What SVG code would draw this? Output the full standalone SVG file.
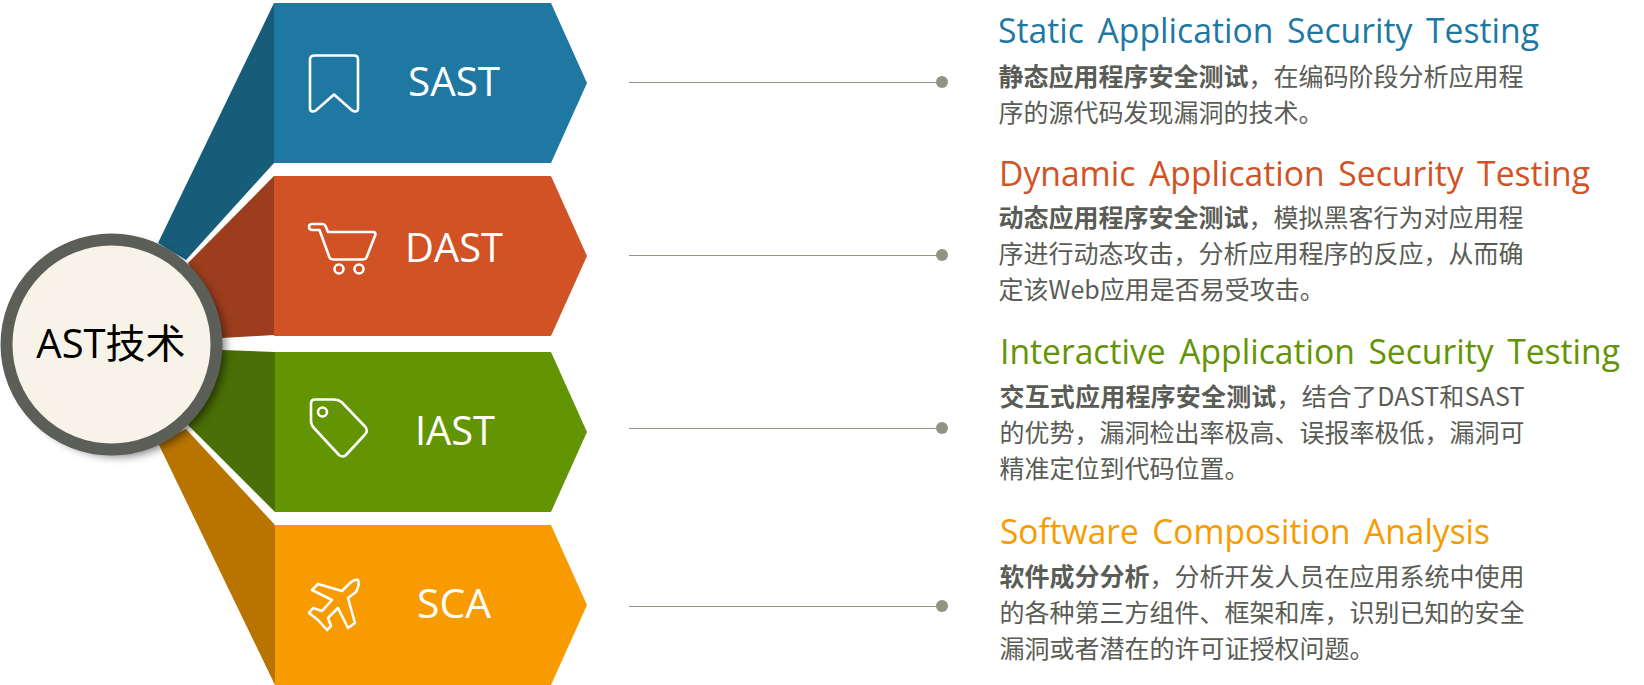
<svg xmlns="http://www.w3.org/2000/svg" width="1644" height="685" viewBox="0 0 1644 685">
<style>
.lab{font-family:"Open Sans","Noto Sans",sans-serif;font-size:40px;fill:#fff;text-anchor:middle}
.ttl{font-family:"Open Sans","Noto Sans",sans-serif;font-size:34.500px;word-spacing:5px}
.cn{font-family:"Noto Sans CJK SC",sans-serif;font-size:25px;fill:#5a5c56}
.b{font-weight:700}
.ic{fill:none;stroke:#fff;stroke-width:2.6;stroke-linejoin:round;stroke-linecap:round}
.ln{stroke:#8f9485;stroke-width:1}
.dot{fill:#8f9485}
</style>
<defs><filter id="sh" x="-20%" y="-20%" width="145%" height="145%"><feGaussianBlur stdDeviation="5"/></filter></defs>
<g id="connectors">
<line class="ln" x1="629" y1="82.500" x2="941" y2="82.500"/><circle class="dot" cx="942" cy="82" r="6"/>
<line class="ln" x1="629" y1="255.500" x2="941" y2="255.500"/><circle class="dot" cx="942" cy="255" r="6"/>
<line class="ln" x1="629" y1="428.500" x2="941" y2="428.500"/><circle class="dot" cx="942" cy="428" r="6"/>
<line class="ln" x1="629" y1="606.500" x2="941" y2="606.500"/><circle class="dot" cx="942" cy="606" r="6"/>
</g>
<g id="node-sast">
<polygon points="274,3 158,243 186,260 274,163" fill="#175c79"/>
<polygon points="274,3 551,3 587,83 551,163 274,163" fill="#1f78a1"/>
<path class="ic" d="M315 55.5h39q4 0 4 4v49q0 3-3 3q-2 0-4-2l-17-15l-17 15q-2 2-4 2q-3 0-3-3v-49q0-4 5-4z"/>
<text class="lab" x="454" y="96" textLength="92" lengthAdjust="spacingAndGlyphs">SAST</text>
</g>
<g id="node-dast">
<polygon points="274,176 188,263 222,338 274,335" fill="#9c3d1e"/>
<polygon points="274,176 551,176 587,256 551,336 274,336" fill="#d05225"/>
<path class="ic" d="M312.5 224h10q2 0 3 2l2.500 6h45.500q2 0 2 2.500l-9 23q-1 2-4 2h-29q-3 0-4-2l-10-27.500h-7q-3.500 0-3.500-3.500q0-2.500 3.500-2.500z"/>
<circle class="ic" cx="339" cy="269" r="4.500"/><circle class="ic" cx="359" cy="269" r="4.500"/>
<text class="lab" x="454" y="262" textLength="98" lengthAdjust="spacingAndGlyphs">DAST</text>
</g>
<g id="node-iast">
<polygon points="275,352 222,350 188,425 275,512" fill="#4a6f06"/>
<polygon points="275,352 551,352 587,432 551,512 275,512" fill="#639404"/>
<path class="ic" d="M315 399.500h18q6 0 9 3l23 24q3.500 4 0 8l-19 20.500q-3 3-7 0l-25-27q-3-3-3-7v-17.500q0-4 4-4z"/>
<circle class="ic" cx="322.500" cy="412" r="4.500"/>
<text class="lab" x="455" y="445" textLength="80" lengthAdjust="spacingAndGlyphs">IAST</text>
</g>
<g id="node-sca">
<polygon points="275,525 186,429 158,443 275,685" fill="#b97400"/>
<polygon points="275,525 551,525 587,605 551,685 275,685" fill="#f89b00"/>
<path class="ic" d="M312 590L318 584L342 591L350 583Q355 579 358 580Q360 584 356 592L348 598L355 623L348 628L338 608L328 618L331 626L327 630L318 620L309 613L313 608L322 611L332 600Z"/>
<text class="lab" x="454" y="618" textLength="74" lengthAdjust="spacingAndGlyphs">SCA</text>
</g>
<g id="node-center">
<circle cx="118" cy="349" r="107" fill="#000" opacity=".55" filter="url(#sh)"/>
<circle cx="111.500" cy="344.500" r="105" fill="#f7f3e9" stroke="#5c5f57" stroke-width="12"/>
<text x="111" y="358" font-family="'Open Sans','Noto Sans CJK SC',sans-serif" font-size="40" text-anchor="middle" fill="#000">AST技术</text>
</g>
<g id="text-sast">
<text class="ttl" x="998" y="43" fill="#1f78a1" textLength="541" lengthAdjust="spacingAndGlyphs">Static Application Security Testing</text>
<text class="cn" x="998.500" y="86"><tspan class="b">静态应用程序安全测试</tspan>，在编码阶段分析应用程</text>
<text class="cn" x="998.500" y="122">序的源代码发现漏洞的技术。</text>
</g>
<g id="text-dast">
<text class="ttl" x="999" y="186" fill="#d05225" textLength="591" lengthAdjust="spacingAndGlyphs">Dynamic Application Security Testing</text>
<text class="cn" x="998.500" y="227"><tspan class="b">动态应用程序安全测试</tspan>，模拟黑客行为对应用程</text>
<text class="cn" x="998.500" y="263">序进行动态攻击，分析应用程序的反应，从而确</text>
<text class="cn" x="998.500" y="299">定该Web应用是否易受攻击。</text>
</g>
<g id="text-iast">
<text class="ttl" x="1000" y="364" fill="#639404" textLength="620" lengthAdjust="spacingAndGlyphs">Interactive Application Security Testing</text>
<text class="cn" x="999.500" y="406" textLength="525"><tspan class="b">交互式应用程序安全测试</tspan>，结合了DAST和SAST</text>
<text class="cn" x="999.500" y="442">的优势，漏洞检出率极高、误报率极低，漏洞可</text>
<text class="cn" x="999.500" y="478">精准定位到代码位置。</text>
</g>
<g id="text-sca">
<text class="ttl" x="1000" y="544" fill="#f89b00" textLength="490" lengthAdjust="spacingAndGlyphs">Software Composition Analysis</text>
<text class="cn" x="999.500" y="586"><tspan class="b">软件成分分析</tspan>，分析开发人员在应用系统中使用</text>
<text class="cn" x="999.500" y="622">的各种第三方组件、框架和库，识别已知的安全</text>
<text class="cn" x="999.500" y="658">漏洞或者潜在的许可证授权问题。</text>
</g>
</svg>
